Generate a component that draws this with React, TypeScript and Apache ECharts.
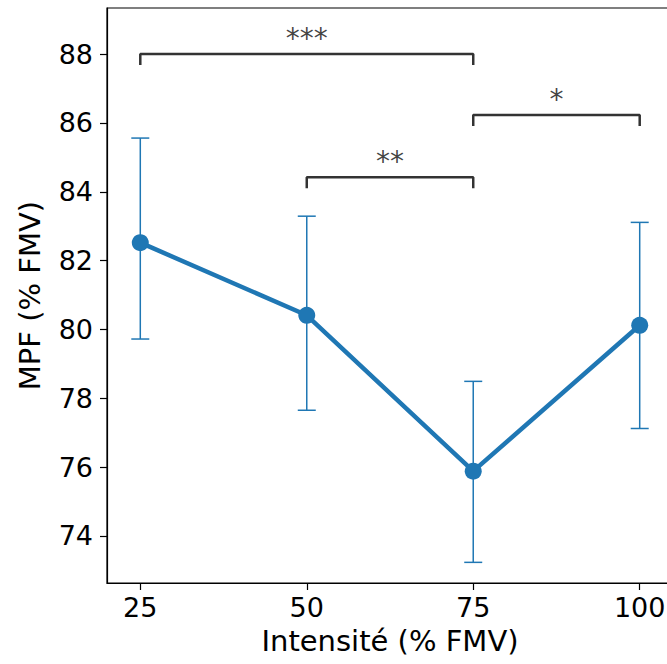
import React, { useEffect, useRef } from "react";
import * as echarts from "echarts";

const intensities = [25, 50, 75, 100];
const mpfMeans = [82.52, 80.41, 75.88, 80.12];
const errLow = [79.72, 77.65, 73.23, 77.12];
const errHigh = [85.56, 83.29, 78.49, 83.11];
const xTicks = [25, 50, 75, 100];
const yTicks = [74, 76, 78, 80, 82, 84, 86, 88];
// significance brackets: [x1, x2, y, label]
const brackets: [number, number, number, string][] = [
  [25, 75, 88.0, "***"],
  [50, 75, 84.42, "**"],
  [75, 100, 86.23, "*"],
];
const bracketDrop = 0.32;

const BLUE = "#1f77b4";
const FONT = "DejaVu Sans";

export default function App() {
  const ref = useRef<HTMLDivElement>(null);
  useEffect(() => {
    if (!ref.current) return;
    const chart = echarts.init(ref.current, undefined, { renderer: "svg" });

    const bracketSeries = brackets.map(([x1, x2, y]) => ({
      type: "line",
      data: [
        [x1, y - bracketDrop],
        [x1, y],
        [x2, y],
        [x2, y - bracketDrop],
      ],
      symbol: "none",
      lineStyle: { color: "#333", width: 2.5 },
      silent: true,
      z: 3,
    }));

    chart.setOption({
      animation: false,
      grid: {
        left: 107,
        top: 8,
        width: 566,
        height: 575,
        show: true,
        borderColor: "#000",
        borderWidth: 1.2,
        backgroundColor: "transparent",
        outerBoundsMode: "none",
      },
      xAxis: {
        type: "value",
        min: 20,
        max: 105,
        name: "Intensité (% FMV)",
        nameLocation: "middle",
        nameGap: 43,
        nameTextStyle: { fontFamily: FONT, fontSize: 29, color: "#000" },
        axisLine: { show: true, onZero: false, lineStyle: { color: "#000", width: 1.2 } },
        axisTick: { show: true, customValues: xTicks, length: 7, lineStyle: { color: "#000", width: 1.2 } },
        axisLabel: {
          customValues: xTicks,
          fontFamily: FONT,
          fontSize: 27,
          color: "#000",
          margin: 11,
        },
        splitLine: { show: false },
      },
      yAxis: {
        type: "value",
        min: 72.63,
        max: 89.34,
        name: "MPF (% FMV)",
        nameLocation: "middle",
        nameGap: 63,
        nameTextStyle: { fontFamily: FONT, fontSize: 29, color: "#000" },
        axisLine: { show: true, onZero: false, lineStyle: { color: "#000", width: 1.2 } },
        axisTick: { show: true, customValues: yTicks, length: 7, lineStyle: { color: "#000", width: 1.2 } },
        axisLabel: {
          customValues: yTicks,
          fontFamily: FONT,
          fontSize: 27,
          color: "#000",
          margin: 14,
        },
        splitLine: { show: false },
      },
      series: [
        {
          type: "custom",
          data: intensities.map((x, i) => [x, errLow[i], errHigh[i]]),
          renderItem: (params: any, api: any) => {
            const x = api.value(0);
            const lo = api.coord([x, api.value(1)]);
            const hi = api.coord([x, api.value(2)]);
            const cw = 9;
            const style = { stroke: BLUE, lineWidth: 1.5 };
            return {
              type: "group",
              children: [
                { type: "line", shape: { x1: lo[0], y1: lo[1], x2: hi[0], y2: hi[1] }, style },
                { type: "line", shape: { x1: lo[0] - cw, y1: lo[1], x2: lo[0] + cw, y2: lo[1] }, style },
                { type: "line", shape: { x1: hi[0] - cw, y1: hi[1], x2: hi[0] + cw, y2: hi[1] }, style },
              ],
            };
          },
          z: 2,
          silent: true,
        },
        {
          type: "line",
          data: intensities.map((x, i) => [x, mpfMeans[i]]),
          symbol: "circle",
          symbolSize: 17,
          showSymbol: true,
          lineStyle: { color: BLUE, width: 4.5 },
          itemStyle: { color: BLUE },
          z: 4,
        },
        ...bracketSeries,
        {
          type: "scatter",
          data: brackets.map(([x1, x2, y, t]) => [(x1 + x2) / 2, y, t]),
          symbolSize: 0,
          itemStyle: { color: "transparent" },
          label: {
            show: true,
            position: "top",
            distance: 2,
            formatter: (p: any) => p.data[2],
            fontFamily: FONT,
            fontSize: 28,
            color: "#111",
          },
          silent: true,
          z: 5,
        },
      ],
    });
    return () => chart.dispose();
  }, []);
  return (
    <div
      ref={ref}
      style={{ position: "absolute", left: 0, top: 0, width: 667, height: 664, background: "#fff" }}
    />
  );
}
